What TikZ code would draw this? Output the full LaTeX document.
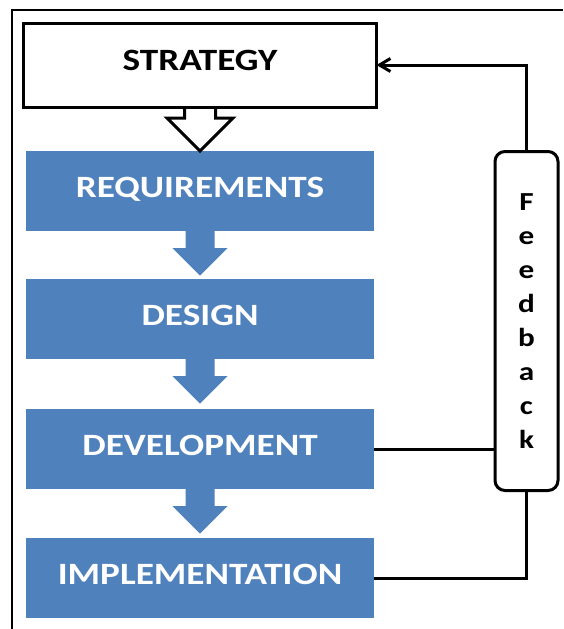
\documentclass[tikz,border=0pt]{standalone}
\usepackage{fontspec}
\setmainfont{Carlito}
\newfontfamily\widefont{Carlito}[FakeStretch=1.2]
\usetikzlibrary{arrows.meta}
\definecolor{phaseblue}{HTML}{4F81BD}
\tikzset{
  phase/.style={fill=phaseblue, text=white, minimum width=348.5pt, minimum height=80pt,
    inner sep=0pt, outer sep=0pt, text height=20pt, text depth=7pt,
    font=\widefont\fontsize{31}{31}\selectfont\bfseries},
  flow/.style={line width=3pt},
}
\begin{document}
\begin{tikzpicture}[x=1pt, y=-1pt]
    \useasboundingbox (0,0) rectangle (563,629);
    \fill [white] (0,0) rectangle (563,629);
    \draw [line width=2pt] (12,629) -- (12,10) -- (563,10);
    % phases
    \node [draw, line width=3pt, minimum width=353pt, minimum height=84pt, inner sep=0pt,
      outer sep=0pt, text height=20pt, text depth=9pt,
      font=\widefont\fontsize{31}{31}\selectfont\bfseries] (strat) at (200,65) {STRATEGY};
    \node [phase] (req) at (200,191) {REQUIREMENTS};
    \node [phase] (des) at (200,319) {DESIGN};
    \node [phase] (dev) at (200,449) {DEVELOPMENT};
    \node [phase] (impl) at (200,578) {IMPLEMENTATION};
    % arrows between phases
    \draw [flow] ([xshift=-15.5]strat.south) -- ++(0,11) -- ++(-17.5,0) -- ++(33,33)
      -- ++(33,-33) -- ++(-17.5,0) -- ++(0,-11);
    \foreach \a in {req, des, dev}
        \fill [phaseblue] ([xshift=-14.5]\a.south) -- ++(0,17) -- ++(-13,0) -- ++(27.5,27.5)
          -- ++(27.5,-27.5) -- ++(-13,0) -- ++(0,-17) -- cycle;
    % feedback
    \node [draw, line width=3pt, rounded corners=10pt, minimum width=63pt, minimum height=339pt,
      inner sep=0pt, outer sep=0pt, align=center,
      font=\widefont\fontsize{26}{34}\selectfont\bfseries]
      (fb) at (526.5,321) {F\\e\\e\\d\\b\\a\\c\\k};
    \draw [flow, -{Straight Barb[length=11pt, width=13pt]}] (fb.north) |- (strat.east);
    \draw [flow] (dev.east) -- (dev.east -| fb.west);
    \draw [flow] (impl.east) -| (fb.south);
\end{tikzpicture}
\end{document}
